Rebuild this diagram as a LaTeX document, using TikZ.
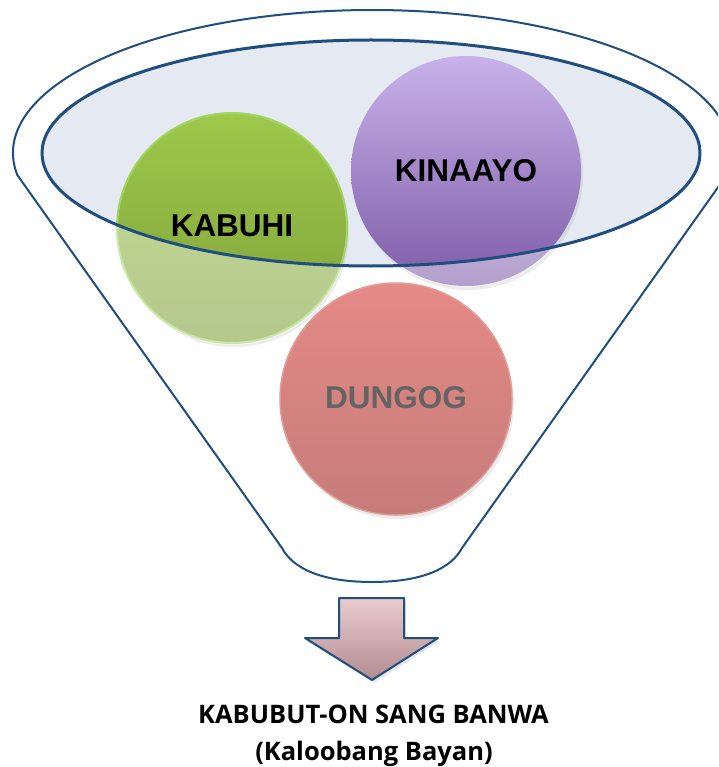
\documentclass[tikz,border=0pt]{standalone}
\usepackage{fontspec}
\setmainfont{Liberation Sans}
\newfontfamily\captionfont{Open Sans}
\usetikzlibrary{shadows}
\definecolor{funnelblue}{RGB}{31,78,127}
\definecolor{rimfill}{RGB}{228,233,242}
\definecolor{greentop}{RGB}{158,201,74}
\definecolor{greenbot}{RGB}{126,160,58}
\definecolor{greenedge}{RGB}{160,214,100}
\definecolor{purptop}{RGB}{200,178,234}
\definecolor{purpbot}{RGB}{126,92,168}
\definecolor{redtop}{RGB}{229,138,134}
\definecolor{redbot}{RGB}{198,124,122}
\definecolor{rededge}{RGB}{226,156,152}
\definecolor{arrowtop}{RGB}{234,204,206}
\definecolor{arrowbot}{RGB}{178,140,144}
\definecolor{dungoggray}{RGB}{100,100,100}
\tikzset{
  ball/.style={circle, minimum size=230pt, inner sep=0pt,
    drop shadow={opacity=0.15, shadow xshift=2pt, shadow yshift=-4pt}},
  balltext/.style={font=\bfseries\fontsize{31.5}{33}\selectfont, inner sep=0pt},
  funnelline/.style={draw=funnelblue, line width=2pt, line join=round},
  captiontext/.style={font=\captionfont\bfseries\fontsize{25.5}{28}\selectfont, anchor=base, inner sep=0pt}
}
\begin{document}
\begin{tikzpicture}[x=1pt,y=1pt]
\useasboundingbox (0,0) rectangle (718,-767);
\begin{scope}
\clip (0,0) rectangle (718,-767);
% funnel body
\draw[funnelline, fill=white]
  (372,-153) ++(188.85:359pt and 143pt)
  arc[start angle=188.85, end angle=-8.85, x radius=359pt, y radius=143pt]
  -- (462,-548)
  .. controls (452,-567) and (425,-582) .. (372,-582)
  .. controls (319,-582) and (292,-567) .. (282,-548) -- cycle;
% rim fill
\fill[rimfill] (371,-153) ellipse [x radius=329pt, y radius=113pt];
% balls
\node[ball, top color=greentop, bottom color=greenbot, draw=greenedge, line width=2pt] (kabuhi) at (232,-228) {};
\node[ball, top color=purptop, bottom color=purpbot] (kinaayo) at (466,-171) {};
\node[ball, minimum size=232pt, top color=redtop, bottom color=redbot, draw=rededge, line width=1.5pt] (dungog) at (396,-399) {};
% wash the parts below the rim
\begin{scope}
\clip (232,-228) circle [radius=117pt];
\fill[white, opacity=0.42, even odd rule] (0,0) rectangle (718,-767) (371,-153) ellipse [x radius=329pt, y radius=113pt];
\end{scope}
\begin{scope}
\clip (466,-171) circle [radius=116pt];
\fill[white, opacity=0.42, even odd rule] (0,0) rectangle (718,-767) (371,-153) ellipse [x radius=329pt, y radius=113pt];
\end{scope}
% rim outline
\draw[funnelblue, line width=3pt] (371,-153) ellipse [x radius=329pt, y radius=113pt];
% labels
\node[balltext] (kabuhitext) at (232,-226) {KABUHI};
\node[balltext] (kinaayotext) at (466,-171) {KINAAYO};
\node[balltext, text=dungoggray] (dungogtext) at (396,-398) {DUNGOG};
% arrow
\draw[funnelline, top color=arrowtop, bottom color=arrowbot,
      drop shadow={opacity=0.2, shadow xshift=2pt, shadow yshift=-3pt}]
  (339,-598) -- (404,-598) -- (404,-638) -- (438,-638) -- (372,-680)
  -- (305,-638) -- (339,-638) -- cycle;
\node[captiontext] (caption1) at (373.5,-723) {KABUBUT-ON SANG BANWA};
\node[captiontext] (caption2) at (374,-760) {(Kaloobang Bayan)};
\end{scope}
\end{tikzpicture}
\end{document}
